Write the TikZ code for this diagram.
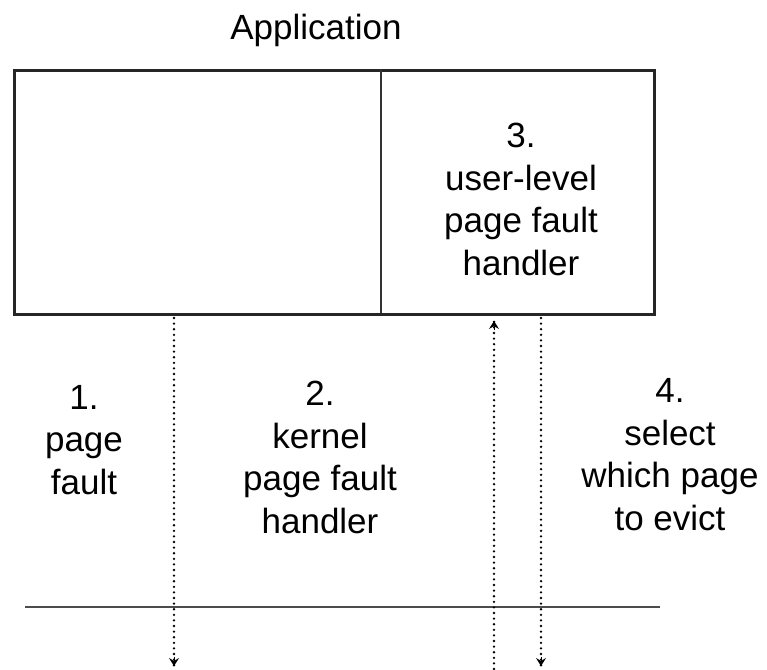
\documentclass[tikz,border=0pt]{standalone}
\usepackage{fontspec}
\setmainfont{Liberation Sans}
\usetikzlibrary{arrows.meta,calc}
\begin{document}
\begin{tikzpicture}[x=1pt,y=-1pt,
  lbl/.style={font=\fontsize{35}{42.5}\selectfont, align=center, inner sep=0pt, anchor=base},
  frame/.style={draw=black!85, line width=2.6pt},
  divider/.style={draw=black!80, line width=1.4pt},
  boundary/.style={draw=black!70, line width=2pt},
  dotline/.style={draw=black, line width=2.6pt, line cap=round, dash pattern=on 0pt off 5.6pt},
  tiponly/.style={draw=black, line width=1pt, solid, -{Stealth[length=8pt,width=10pt,inset=3pt]}}
]
\useasboundingbox (0,0) rectangle (767,669);
\fill[white] (0,0) rectangle (767,669);

% Application box
\node[frame, rectangle, minimum width=640pt, minimum height=244pt, inner sep=0pt, anchor=north west] (box) at (13,69) {};
\coordinate (divtop) at (381,69);
\coordinate (divbot) at (381,313);
\draw[divider] (divtop) -- (divbot);

\node[lbl] (app) at (316,40) {Application};
% anchor=base is the baseline of the last line
\node[lbl] (h3) at (521,275) {3.\\user-level\\page fault\\handler};

% kernel boundary line
\coordinate (kl) at (25,607);
\coordinate (kr) at (660,607);
\draw[boundary] (kl) -- (kr);

% labels below
\node[lbl] (f1) at (84,494) {1.\\page\\fault};
\node[lbl] (k2) at (320,533) {2.\\kernel\\page fault\\handler};
\node[lbl] (e4) at (670,530) {4.\\select\\which page\\to evict};

% dotted arrows
\coordinate (a1s) at (174,318);
\coordinate (a1e) at (174,666);
\coordinate (a2s) at (494,669);
\coordinate (a2e) at (494,321);
\coordinate (a3s) at (541,318);
\coordinate (a3e) at (541,666);
\draw[dotline] (a1s) -- (a1e);
\draw[dotline] (a2s) -- (a2e);
\draw[dotline] (a3s) -- (a3e);
\draw[tiponly] ($(a1e)+(0,-9)$) -- (a1e);
\draw[tiponly] ($(a2e)+(0,9)$) -- (a2e);
\draw[tiponly] ($(a3e)+(0,-9)$) -- (a3e);
\end{tikzpicture}
\end{document}
